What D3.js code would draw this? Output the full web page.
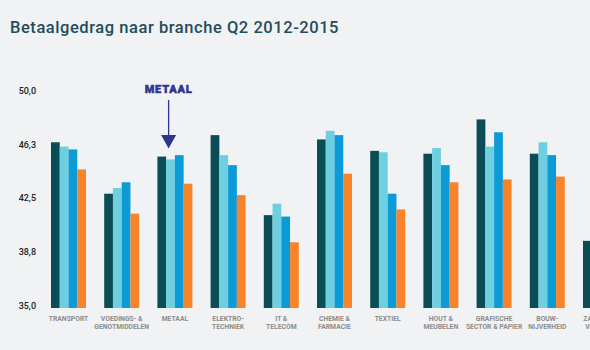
<!DOCTYPE html>
<html>
<head>
<meta charset="utf-8">
<script src="https://cdn.jsdelivr.net/npm/d3@7/dist/d3.min.js"></script>
<style>
  html, body { margin: 0; padding: 0; background: #f0f2f4; }
  svg { display: block; font-family: Roboto, "Noto Sans", sans-serif; }
</style>
</head>
<body>
<svg id="chart" width="590" height="350"></svg>
<script>
const categories = [
  ["TRANSPORT"],
  ["VOEDINGS- &", "GENOTMIDDELEN"],
  ["METAAL"],
  ["ELEKTRO-", "TECHNIEK"],
  ["IT &", "TELECOM"],
  ["CHEMIE &", "FARMACIE"],
  ["TEXTIEL"],
  ["HOUT &", "MEUBELEN"],
  ["GRAFISCHE", "SECTOR & PAPIER"],
  ["BOUW-", "NIJVERHEID"],
  ["ZAKELIJKE", "VERHUUR"]
];
const series = ["Q2 2012", "Q2 2013", "Q2 2014", "Q2 2015"];
const values2012 = [46.6, 43.0, 45.6, 47.1, 41.5, 46.8, 46.0, 45.8, 48.2, 45.8, 39.7];
const values2013 = [46.3, 43.4, 45.4, 45.7, 42.3, 47.4, 45.9, 46.2, 46.3, 46.6, null];
const values2014 = [46.1, 43.8, 45.7, 45.0, 41.4, 47.1, 43.0, 45.0, 47.3, 45.7, null];
const values2015 = [44.7, 41.6, 43.7, 42.9, 39.6, 44.4, 41.9, 43.8, 44.0, 44.2, null];
const yTicks = [35, 38.75, 42.5, 46.25, 50];
const title = "Betaalgedrag naar branche Q2 2012-2015";
const highlight = "METAAL";

const colors = ["#0b4d56", "#6dcfe0", "#0c9bd7", "#f7842b"];
const allValues = [values2012, values2013, values2014, values2015];

const svg = d3.select("#chart");

svg.append("text")
  .attr("x", 10).attr("y", 32.5)
  .attr("font-size", 16.5).attr("font-weight", 500)
  .attr("letter-spacing", 0.55)
  .attr("fill", "#1f4d5b")
  .text(title);

const catKeys = categories.map(c => c.join(" "));
const step = 53.2, inner = 0.342;
const x = d3.scaleBand()
  .domain(catKeys)
  .range([51, 51 + step * (catKeys.length - inner)])
  .paddingInner(inner)
  .paddingOuter(0);
const xs = d3.scaleBand().domain(series).range([0, x.bandwidth()]);
const y = d3.scaleLinear().domain([35, 50]).range([308, 93.7]);

// y axis labels
const yAxis = d3.axisLeft(y).tickValues(yTicks).tickSize(0)
  .tickFormat(d => d3.format(".1f")(d).replace(".", ","));
const gy = svg.append("g").attr("transform", "translate(36,0)").call(yAxis);
gy.select(".domain").remove();
gy.selectAll("text")
  .attr("x", 0).attr("dy", "0")
  .attr("font-size", 9).attr("font-weight", 500)
  .attr("font-family", "Roboto, sans-serif")
  .attr("fill", "#222");

// bars
const groups = svg.append("g").selectAll("g")
  .data(catKeys).join("g")
  .attr("transform", d => `translate(${x(d)},0)`);

groups.selectAll("rect")
  .data((d, i) => series.map((s, j) => ({ s, v: allValues[j][i] })).filter(o => o.v != null))
  .join("rect")
  .attr("x", d => xs(d.s))
  .attr("width", xs.bandwidth())
  .attr("y", d => y(d.v))
  .attr("height", d => y(35) - y(d.v))
  .attr("fill", d => colors[series.indexOf(d.s)]);

// x labels
const labels = svg.append("g").selectAll("text")
  .data(categories).join("text")
  .attr("x", d => x(d.join(" ")) + x.bandwidth() / 2)
  .attr("y", 320.5)
  .attr("text-anchor", "middle")
  .attr("font-size", 6.8).attr("font-weight", 700)
  .attr("fill", "#8c8c8c");
labels.selectAll("tspan")
  .data(d => d).join("tspan")
  .attr("x", function () { return d3.select(this.parentNode).attr("x"); })
  .attr("dy", (d, i) => i === 0 ? 0 : 8)
  .text(d => d);

// METAAL annotation
const hi = categories.findIndex(c => c.join(" ") === highlight);
const hx = x(catKeys[hi]) + x.bandwidth() / 2 - 6.3;
svg.append("text")
  .attr("x", hx).attr("y", 92.7)
  .attr("text-anchor", "middle")
  .attr("font-size", 11).attr("font-weight", 900)
  .attr("letter-spacing", 0.8)
  .attr("font-family", "Roboto, sans-serif")
  .attr("fill", "#2e3590")
  .attr("stroke", "#2e3590").attr("stroke-width", 0.5)
  .text(highlight);
svg.append("line")
  .attr("x1", hx).attr("x2", hx)
  .attr("y1", 100).attr("y2", 136)
  .attr("stroke", "#2e3590").attr("stroke-width", 1.3);
svg.append("path")
  .attr("d", `M${hx - 7.5},135 L${hx + 7.5},135 L${hx},148.5 Z`)
  .attr("fill", "#2e3590");
</script>
</body>
</html>
